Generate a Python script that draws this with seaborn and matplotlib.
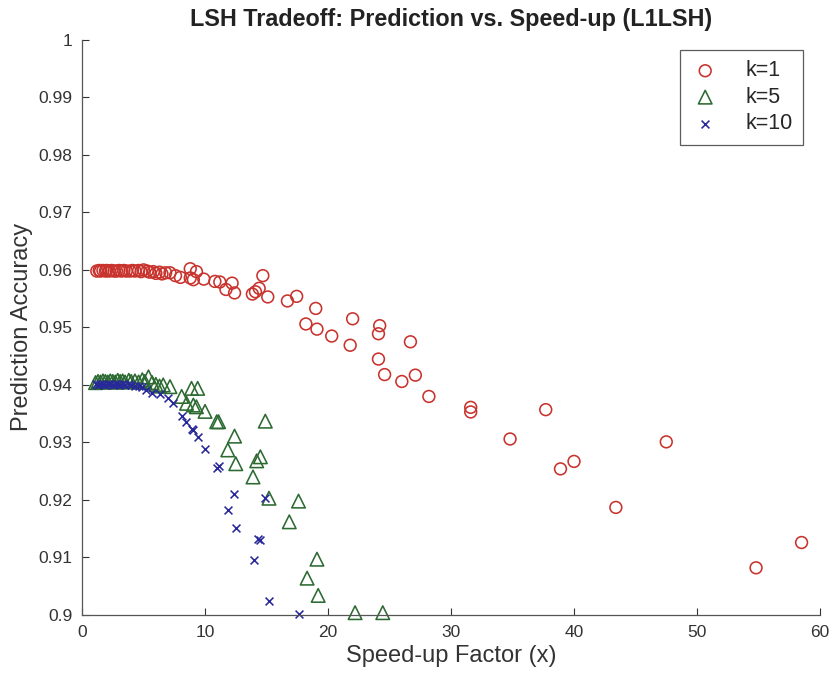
import numpy as np
import pandas as pd
import matplotlib
matplotlib.use('Agg')
import matplotlib.pyplot as plt
import seaborn as sns

# k=1 (red circles)
k1_x = [1.2, 1.4, 1.5, 1.7, 1.9, 2.0, 2.2, 2.4, 2.6, 2.8, 3.0, 3.2, 3.4, 3.6, 3.9,
        4.1, 4.3, 4.6, 4.8, 5.0, 5.3, 5.5, 5.8, 6.0, 6.3, 6.5, 6.8, 7.15, 7.6, 8.0,
        8.8, 9.3, 8.8, 9.05, 9.9, 10.8, 11.2, 12.2, 11.7, 12.4, 14.7, 14.4, 14.1, 13.85,
        15.1, 16.7, 17.45, 19.0, 18.2, 19.1, 20.3, 22.0, 21.8, 24.2, 24.1, 24.1, 24.6,
        26.0, 27.1, 26.7, 28.2, 31.6, 31.6, 37.7, 34.8, 40.0, 38.9, 47.5, 43.4, 58.5, 54.8]
k1_y = [0.9598, 0.9599, 0.9598, 0.9599, 0.9598, 0.9599, 0.9598, 0.9599, 0.9598, 0.9598, 0.9599, 0.9598, 0.9599, 0.9598, 0.9598,
        0.9599, 0.9598, 0.9599, 0.9597, 0.9600, 0.9598, 0.9596, 0.9597, 0.9594, 0.9596, 0.9593, 0.9595, 0.9595, 0.9590, 0.9587,
        0.9602, 0.9597, 0.9586, 0.9583, 0.9584, 0.9580, 0.9579, 0.9577, 0.9566, 0.9560, 0.9590, 0.9568, 0.9562, 0.9558,
        0.9553, 0.9546, 0.9554, 0.9533, 0.9506, 0.9497, 0.9485, 0.9515, 0.9469, 0.9503, 0.9489, 0.9445, 0.9418,
        0.9406, 0.9417, 0.9475, 0.9380, 0.9361, 0.9353, 0.9357, 0.9306, 0.9267, 0.9254, 0.9301, 0.9187, 0.9126, 0.9082]

# k=5 (green triangles)
k5_x = [1.1, 1.3, 1.5, 1.7, 1.9, 2.1, 2.3, 2.5, 2.7, 2.9, 3.1, 3.3, 3.5, 3.8, 4.0,
        4.3, 4.6, 4.9, 5.1, 5.4, 5.7, 6.0, 6.3, 6.6, 7.15, 8.9, 9.4, 8.1, 8.5, 9.05,
        9.3, 10.0, 10.95, 11.1, 14.9, 12.4, 11.85, 12.5, 14.2, 14.5, 13.9, 15.2, 17.6,
        16.85, 19.1, 18.3, 19.2, 22.2, 24.45]
k5_y = [0.9404, 0.9406, 0.9405, 0.9407, 0.9406, 0.9405, 0.9407, 0.9406, 0.9405, 0.9408, 0.9406, 0.9407, 0.9405, 0.9408, 0.9406,
        0.9407, 0.9405, 0.9409, 0.9406, 0.9414, 0.9404, 0.9401, 0.9398, 0.9400, 0.9397, 0.9394, 0.9394, 0.9380, 0.9368, 0.9365,
        0.9362, 0.9354, 0.9336, 0.9336, 0.9337, 0.9311, 0.9287, 0.9263, 0.9268, 0.9275, 0.9240, 0.9203, 0.9198,
        0.9162, 0.9097, 0.9064, 0.9034, 0.9004, 0.9004]

# k=10 (blue crosses)
k10_x = [1.1, 1.3, 1.5, 1.7, 1.9, 2.1, 2.3, 2.5, 2.7, 2.9, 3.1, 3.3, 3.5, 3.8, 4.0,
         4.3, 4.6, 4.9, 5.2, 5.66, 6.3, 7.0, 7.4, 8.1, 8.45, 8.9, 9.0, 9.4, 10.0,
         10.95, 11.1, 12.35, 11.9, 12.5, 14.9, 14.3, 14.5, 14.0, 15.2, 17.6]
k10_y = [0.9401, 0.9400, 0.9402, 0.9401, 0.9400, 0.9402, 0.9401, 0.9400, 0.9401, 0.9402, 0.9400, 0.9401, 0.9400, 0.9401, 0.9400,
         0.9399, 0.9398, 0.9396, 0.9392, 0.9386, 0.9384, 0.9377, 0.9368, 0.9346, 0.9336, 0.9323, 0.9322, 0.9309, 0.9288,
         0.9255, 0.9259, 0.9210, 0.9183, 0.9151, 0.9203, 0.9132, 0.9131, 0.9096, 0.9025, 0.9002]

series = [
    ('k=1', k1_x, k1_y, 'o', '#c8332d', 72),
    ('k=5', k5_x, k5_y, '^', '#2c6a32', 95),
    ('k=10', k10_x, k10_y, 'x', '#28289a', 32),
]

sns.set_style('ticks')
plt.rcParams['font.family'] = ['Liberation Sans', 'DejaVu Sans']

fig = plt.figure(figsize=(8.32, 6.79), dpi=100)
ax = fig.add_axes([0.0986, 0.0943, 0.887, 0.847])

for name, xs, ys, mk, col, sz in series:
    df = pd.DataFrame({'x': xs, 'y': ys})
    sns.scatterplot(data=df, x='x', y='y', marker=mk, color=col, s=sz,
                    linewidth=1.15, ax=ax, label=name)
    coll = ax.collections[-1]
    if mk != 'x':
        coll.set_facecolor('none')
        coll.set_edgecolor(col)
    coll.set_clip_on(False)

ax.set_xlim(0, 60)
ax.set_ylim(0.9, 1.0)
ax.set_xticks(np.arange(0, 61, 10))
ax.set_yticks(np.round(np.arange(0.9, 1.001, 0.01), 2))
ax.set_yticklabels(['0.9', '0.91', '0.92', '0.93', '0.94', '0.95', '0.96', '0.97', '0.98', '0.99', '1'])
ax.tick_params(direction='in', length=5, labelsize=12.5, colors='#333333', width=0.8, pad=7)
for sp in ['top', 'right']:
    ax.spines[sp].set_visible(False)
for sp in ['left', 'bottom']:
    ax.spines[sp].set_color('#555555')
    ax.spines[sp].set_linewidth(0.9)

ax.set_xlabel('Speed-up Factor (x)', fontsize=17, color='#333333', labelpad=4)
ax.set_ylabel('Prediction Accuracy', fontsize=17, color='#333333', labelpad=4)
ax.set_title('LSH Tradeoff: Prediction vs. Speed-up (L1LSH)', fontsize=16.8,
             fontweight='bold', color='#222222', pad=10)

leg = ax.legend(loc='upper right', fontsize=15.5, frameon=True, fancybox=False,
                edgecolor='#333333', handlelength=1.3, handletextpad=1.2,
                borderpad=0.5, borderaxespad=0, labelspacing=0.25,
                bbox_to_anchor=(0.977, 0.983))
leg.get_frame().set_linewidth(0.9)

fig.savefig('out.png', dpi=100)
